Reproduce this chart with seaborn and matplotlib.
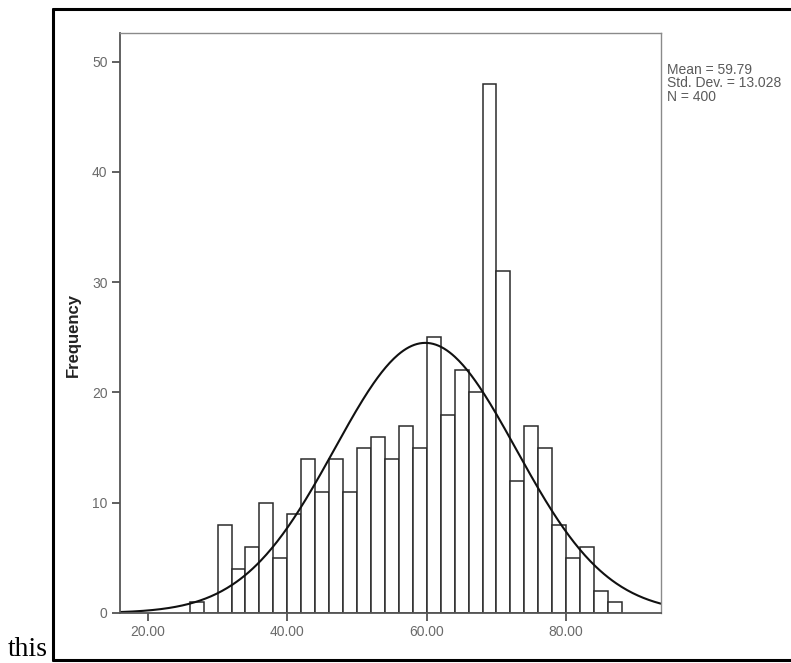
import numpy as np
import pandas as pd
import seaborn as sns
import matplotlib.pyplot as plt
from matplotlib.lines import Line2D

# histogram (bin width 2)
bin_starts = [26, 28, 30, 32, 34, 36, 38, 40, 42, 44, 46, 48, 50, 52, 54, 56,
              58, 60, 62, 64, 66, 68, 70, 72, 74, 76, 78, 80, 82, 84, 86]
counts = [1, 0, 8, 4, 6, 10, 5, 9, 14, 11, 14, 11, 15, 16, 14, 17,
          15, 25, 18, 22, 20, 48, 31, 12, 17, 15, 8, 5, 6, 2, 1]
bin_width = 2

# summary box
mean_val = 59.79
std_val = 13.028
n_val = 400

x_ticks = [20, 40, 60, 80]
x_tick_labels = ["20.00", "40.00", "60.00", "80.00"]
y_ticks = [0, 10, 20, 30, 40, 50]

df = pd.DataFrame({"start": bin_starts, "count": counts})
df["mid"] = df["start"] + bin_width / 2
edges = bin_starts + [bin_starts[-1] + bin_width]

sns.set_style("white")
plt.rcParams["font.family"] = ["Liberation Sans", "DejaVu Sans"]

fig = plt.figure(figsize=(7.91, 6.63), dpi=100)
ax = fig.add_axes([120 / 791, 1 - 613 / 663, (661 - 120) / 791, (613 - 33) / 663])

sns.histplot(data=df, x="mid", weights="count", bins=edges, stat="count",
             color="white", alpha=1, edgecolor="#2b2b2b", linewidth=1.1, ax=ax)

# normal curve SPSS overlays on the histogram
xs = np.linspace(16, 93.6, 400)
ys = n_val * bin_width * np.exp(-0.5 * ((xs - mean_val) / std_val) ** 2) / (std_val * np.sqrt(2 * np.pi))
sns.lineplot(x=xs, y=ys, color="#111111", linewidth=1.5, ax=ax)

ax.set_xlim(16, 93.6)
ax.set_ylim(0, 52.6)
ax.set_xticks(x_ticks)
ax.set_xticklabels(x_tick_labels)
ax.set_yticks(y_ticks)
ax.tick_params(axis="both", direction="out", length=6, width=1.2, color="#444444",
               labelsize=10, labelcolor="#6a6a6a", bottom=True, left=True, pad=3)
ax.set_xlabel("")
ax.set_ylabel("Frequency", fontsize=12, fontweight="bold", color="#222222", labelpad=8)
ax.yaxis.label.set_y(0.48)
for side in ["left", "bottom"]:
    ax.spines[side].set_color("#555555")
    ax.spines[side].set_linewidth(1.3)
for side in ["top", "right"]:
    ax.spines[side].set_color("#8a8a8a")
    ax.spines[side].set_linewidth(1.0)

fig.text(667 / 791, 1 - 63 / 663,
         f"Mean = {mean_val}\nStd. Dev. = {std_val}\nN = {n_val}",
         fontsize=10, color="#5a5a5a", va="top", ha="left", linespacing=0.95)

# the page frame from the document scan
frame_kw = dict(color="black", linewidth=2.2, transform=fig.transFigure)
fig.add_artist(Line2D([53 / 791, 1.01], [1 - 9 / 663, 1 - 9 / 663], **frame_kw))
fig.add_artist(Line2D([53 / 791, 1.01], [1 - 660 / 663, 1 - 660 / 663], **frame_kw))
fig.add_artist(Line2D([53 / 791, 53 / 791], [1 - 9 / 663, 1 - 660 / 663], **frame_kw))
fig.text(8 / 791, 1 / 663, "this", fontsize=20, family="Liberation Serif",
         va="bottom", ha="left", color="black")

fig.savefig("out.png", dpi=100)
